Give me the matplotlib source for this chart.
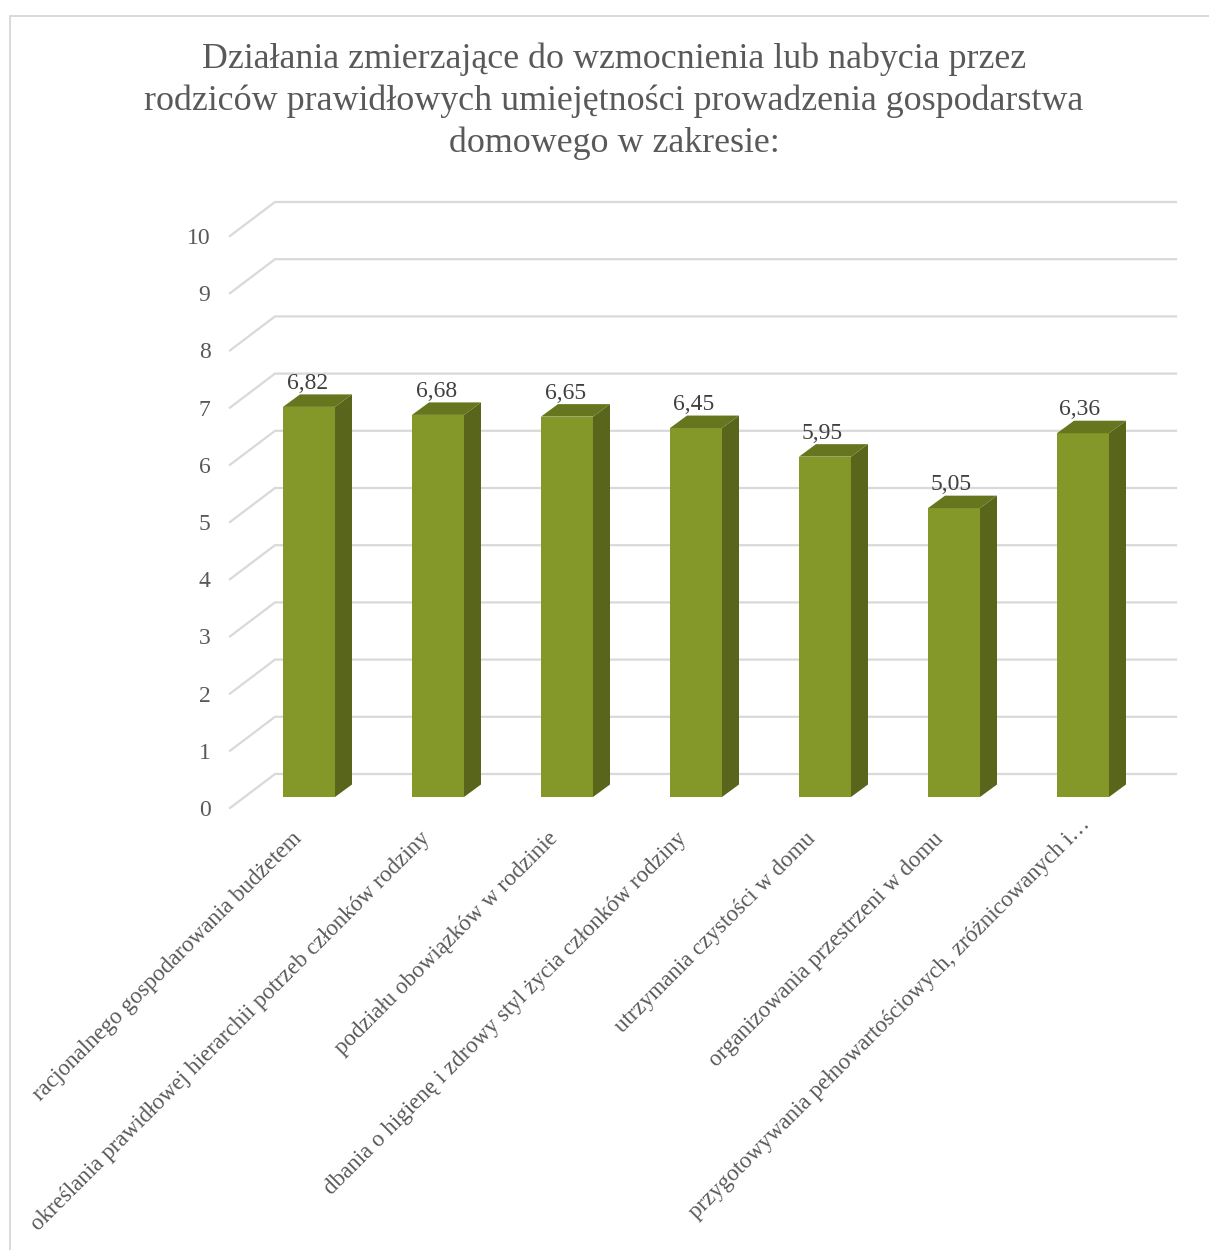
import matplotlib
matplotlib.use('Agg')
import matplotlib.pyplot as plt
from matplotlib.patches import Polygon

categories = ['racjonalnego gospodarowania budżetem',
              'określania prawidłowej hierarchii potrzeb członków rodziny',
              'podziału obowiązków w rodzinie',
              'dbania o higienę i zdrowy styl życia członków rodziny',
              'utrzymania czystości w domu',
              'organizowania przestrzeni w domu',
              'przygotowywania pełnowartościowych, zróżnicowanych i…']
values = [6.82, 6.68, 6.65, 6.45, 5.95, 5.05, 6.36]
value_labels = ['6,82', '6,68', '6,65', '6,45', '5,95', '5,05', '6,36']
y_ticks = list(range(0, 11))
title = ('Działania zmierzające do wzmocnienia lub nabycia przez\n'
         'rodziców prawidłowych umiejętności prowadzenia gospodarstwa\n'
         'domowego w zakresie:')

W, H = 1209, 1250
# one category = 129 px, one unit = 57.2 px, first bar centre at px (309, 797)
STEP_X, STEP_Y = 129.0, 57.2
X0, Y0 = 309.0, 797.0
BAR_W = 52 / STEP_X
DEPTH_X, DEPTH_Y = 17 / STEP_X, 12.5 / STEP_Y

plt.rcParams['font.family'] = ['Liberation Serif', 'DejaVu Serif']

fig = plt.figure(figsize=(W / 100, H / 100), dpi=100)
ax = fig.add_axes([0, 0, 1, 1])
ax.set_xlim(-X0 / STEP_X, (W - X0) / STEP_X)
ax.set_ylim((Y0 - H) / STEP_Y, Y0 / STEP_Y)
ax.axis('off')

grid = '#d9d9d9'
# chart frame (only left and top edge are in the crop)
ax.plot([(10.5 - X0) / STEP_X, (10.5 - X0) / STEP_X, (W - X0) / STEP_X],
        [(Y0 - H) / STEP_Y, (Y0 - 15.5) / STEP_Y, (Y0 - 15.5) / STEP_Y],
        color=grid, lw=1.4, zorder=1)

# walls: floor/side diagonal then back line
wall_left = (230 - X0) / STEP_X
wall_back = (275 - X0) / STEP_X
wall_right = (1176 - X0) / STEP_X
wall_front_dy = -11 / STEP_Y
wall_back_dy = 23 / STEP_Y
for t in y_ticks:
    ax.plot([wall_left, wall_back, wall_right],
            [t + wall_front_dy, t + wall_back_dy, t + wall_back_dy],
            color=grid, lw=1.6, zorder=1, solid_joinstyle='miter')
    ax.text((210.5 - X0) / STEP_X, t + wall_front_dy, str(t), ha='right', va='center_baseline',
            fontsize=17, color='#595959')

xs = list(range(len(values)))
ax.bar(xs, values, width=BAR_W, color='#84982a', zorder=3)
for i, v in zip(xs, values):
    x1, x2 = i - BAR_W / 2, i + BAR_W / 2
    ax.add_patch(Polygon([(x2, 0), (x2 + DEPTH_X, DEPTH_Y), (x2 + DEPTH_X, v + DEPTH_Y), (x2, v)],
                         closed=True, fc='#58651a', ec='none', zorder=3))
    ax.add_patch(Polygon([(x1, v), (x1 + DEPTH_X, v + DEPTH_Y), (x2 + DEPTH_X, v + DEPTH_Y), (x2, v)],
                         closed=True, fc='#66761f', ec='none', zorder=3))
    ax.text(i - (1 + 0.4 * i) / STEP_X, v + 23.5 / STEP_Y, value_labels[i], ha='center', va='center',
            fontsize=17, color='#404040', zorder=4)
    # truncated last label sits higher than the others
    last = i == len(values) - 1
    lab_dx, lab_dy = (-3, -17) if last else (-18 - 0.6 * i, -31)
    ax.text(i + lab_dx / STEP_X, lab_dy / STEP_Y, categories[i], rotation=45, ha='right', va='top',
            rotation_mode='anchor', fontsize=16.6, color='#595959')

fig.text(614 / W, 1 - 101 / H, title, ha='center', va='center', fontsize=25.8,
         color='#595959', linespacing=1.33)

plt.savefig('out.png', dpi=100)
